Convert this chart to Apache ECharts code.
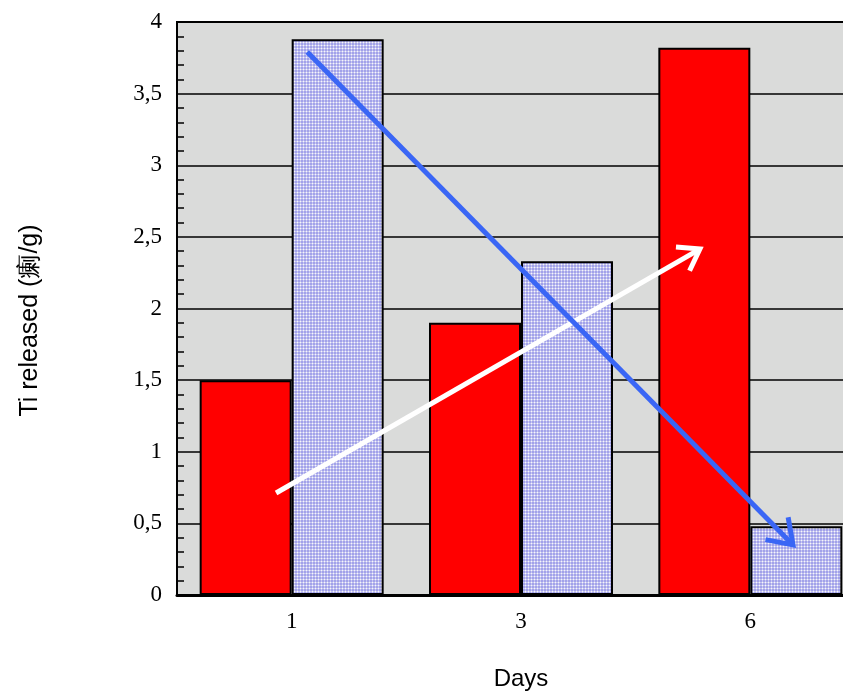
<!DOCTYPE html>
<html>
<head>
<meta charset="utf-8">
<script src="https://cdn.jsdelivr.net/npm/echarts@6/dist/echarts.min.js"></script>
<style>
  html, body { margin: 0; padding: 0; background: #ffffff; }
  #chart { width: 843px; height: 693px; }
</style>
</head>
<body>
<div id="chart"></div>
<script>
// Ti release per day for the two specimen groups
const days = ['1', '3', '6'];
const seriesRed = [1.5, 1.9, 3.82];
const seriesBlue = [3.88, 2.33, 0.48];
const yTicks = { min: 0, max: 4, step: 0.5 };

// Trend arrows: [xStart, yStart, xEnd, yEnd] in (band position 0..3, value) units
const arrowBlue = [0.568, 3.79, 2.686, 0.35];
const arrowWhite = [0.432, 0.712, 2.28, 2.415];

// Dotted lavender fill for the second series
function makeDotPattern() {
  const c = document.createElement('canvas');
  c.width = 3; c.height = 3;
  const g = c.getContext('2d');
  g.fillStyle = '#a2a2ea';
  g.fillRect(0, 0, 3, 3);
  g.fillStyle = '#c8c8f0';
  g.fillRect(0, 0, 3, 1);
  g.fillRect(0, 0, 1, 3);
  g.fillStyle = '#f6f6fc';
  g.fillRect(0, 0, 1, 1);
  return c;
}

const chart = echarts.init(document.getElementById('chart'), null, { renderer: 'canvas' });

function arrowRenderer(color, hl) {
  return function (params, api) {
    const p1 = api.coord([api.value(0), api.value(1)]);
    const p2 = api.coord([api.value(2), api.value(3)]);
    const ang = Math.atan2(p2[1] - p1[1], p2[0] - p1[0]);
    const ha = Math.PI / 5.2;
    const h1 = [p2[0] - hl * Math.cos(ang - ha), p2[1] - hl * Math.sin(ang - ha)];
    const h2 = [p2[0] - hl * Math.cos(ang + ha), p2[1] - hl * Math.sin(ang + ha)];
    const style = { stroke: color, lineWidth: 5, lineCap: 'butt', lineJoin: 'miter', fill: null };
    return {
      type: 'group',
      children: [
        { type: 'line', shape: { x1: p1[0], y1: p1[1], x2: p2[0] - 3 * Math.cos(ang), y2: p2[1] - 3 * Math.sin(ang) }, style: style },
        { type: 'polyline', shape: { points: [h1, p2, h2] }, style: style }
      ]
    };
  };
}

const option = {
  animation: false,
  backgroundColor: '#ffffff',
  grid: {
    left: 177, top: 22, width: 688, height: 573,
    outerBoundsMode: 'none',
    show: true, backgroundColor: '#dadbda', borderColor: '#000000', borderWidth: 2,
    containLabel: false
  },
  xAxis: [{
    type: 'category',
    data: days,
    name: 'Days',
    nameLocation: 'middle',
    nameGap: 72,
    nameTextStyle: { fontFamily: 'Liberation Sans', fontSize: 24, color: '#000' },
    axisLine: { lineStyle: { color: '#000', width: 3 } },
    axisTick: { inside: true, length: 12, lineStyle: { color: '#000', width: 2 } },
    axisLabel: { fontFamily: 'Liberation Serif', fontSize: 23, color: '#000', margin: 15 },
    splitLine: { show: false }
  }, {
    type: 'value', min: 0, max: 3, show: false
  }],
  yAxis: {
    type: 'value',
    min: yTicks.min, max: yTicks.max, interval: yTicks.step,
    name: 'Ti released (瘌/g)',
    nameLocation: 'middle',
    nameGap: 134,
    nameTextStyle: { fontFamily: 'Liberation Sans', fontSize: 25, color: '#000', padding: [0, 24, 0, 0] },
    axisLine: { show: true, lineStyle: { color: '#000', width: 2 } },
    axisTick: { show: false, inside: true },
    minorTick: { show: true, splitNumber: 5, length: 7, lineStyle: { color: '#000', width: 1.5 } },
    axisLabel: {
      fontFamily: 'Liberation Serif', fontSize: 23, color: '#000', margin: 15,
      formatter: v => String(v).replace('.', ',')
    },
    splitLine: { show: true, lineStyle: { color: '#000', width: 1.5 } }
  },
  series: [{
    type: 'bar',
    data: seriesRed,
    barWidth: 92,
    barGap: '0%',
    itemStyle: { color: '#ff0000', borderColor: '#000', borderWidth: 2 },
    z: 2
  }, {
    type: 'bar',
    data: seriesBlue,
    barWidth: 92,
    barGap: '0%',
    itemStyle: { color: { image: makeDotPattern(), repeat: 'repeat' }, borderColor: '#000', borderWidth: 2 },
    z: 2
  }, {
    type: 'custom',
    xAxisIndex: 1,
    yAxisIndex: 0,
    data: [arrowWhite],
    renderItem: arrowRenderer('#ffffff', 24),
    z: 5,
    clip: false
  }, {
    type: 'custom',
    xAxisIndex: 1,
    yAxisIndex: 0,
    data: [arrowBlue],
    renderItem: arrowRenderer('#3a66f5', 28),
    z: 6,
    clip: false
  }]
};

chart.setOption(option);
</script>
</body>
</html>
